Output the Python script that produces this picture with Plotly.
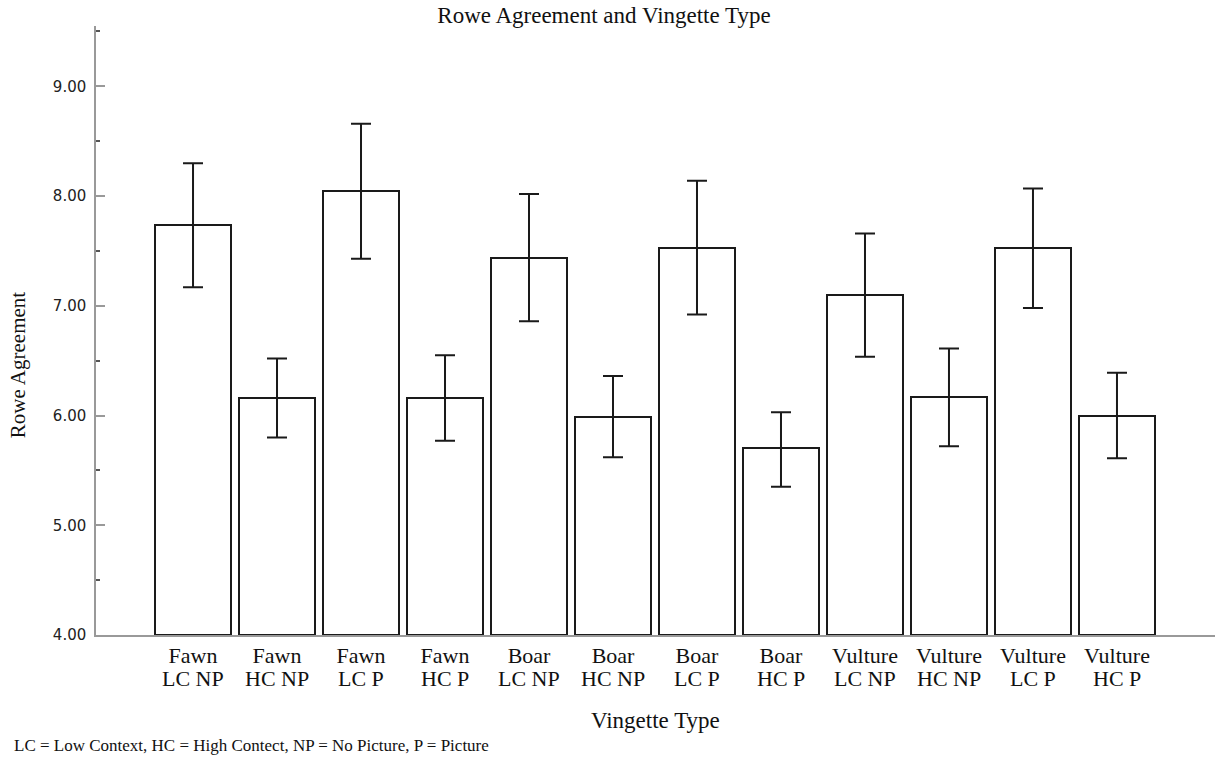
import plotly.graph_objects as go

animals = ["Fawn", "Fawn", "Fawn", "Fawn", "Boar", "Boar", "Boar", "Boar",
           "Vulture", "Vulture", "Vulture", "Vulture"]
conditions = ["LC NP", "HC NP", "LC P", "HC P", "LC NP", "HC NP", "LC P", "HC P",
              "LC NP", "HC NP", "LC P", "HC P"]
means = [7.74, 6.16, 8.05, 6.16, 7.44, 5.99, 7.53, 5.70, 7.10, 6.17, 7.53, 6.00]
ci_upper = [8.30, 6.52, 8.66, 6.55, 8.02, 6.36, 8.14, 6.03, 7.66, 6.61, 8.07, 6.39]
ci_lower = [7.17, 5.80, 7.43, 5.77, 6.86, 5.62, 6.92, 5.35, 6.535, 5.72, 6.98, 5.61]
y_ticks = [4, 5, 6, 7, 8, 9]
y_tick_labels = ["4.00", "5.00", "6.00", "7.00", "8.00", "9.00"]

xpos = list(range(len(animals)))
err_plus = [u - m for u, m in zip(ci_upper, means)]
err_minus = [m - l for m, l in zip(means, ci_lower)]

SERIF = "Liberation Serif"
SANS = "DejaVu Sans"
INK = "#111111"

fig = go.Figure()
fig.add_trace(go.Bar(
    x=xpos, y=[m - 4 for m in means], base=4,
    width=0.905,
    marker=dict(color="white", line=dict(color="#1a1a1a", width=2)),
    error_y=dict(type="data", symmetric=False, array=err_plus, arrayminus=err_minus,
                 color="#1a1a1a", thickness=2, width=10),
    showlegend=False, hoverinfo="skip",
))

fig.update_layout(
    width=1219, height=768,
    margin=dict(l=96, r=4, t=26, b=133),
    plot_bgcolor="white", paper_bgcolor="white",
    font=dict(family=SERIF, color=INK),
    title=dict(text="Rowe Agreement and Vingette Type", x=0.4955, xref="container",
               xanchor="center", y=0.981, yref="container", yanchor="middle",
               font=dict(family=SERIF, size=23, color=INK)),
    bargap=0,
)

fig.update_xaxes(
    range=[-1.155, 12.167],
    tickmode="array", tickvals=xpos, ticktext=animals,
    tickfont=dict(family=SERIF, size=22, color=INK),
    showline=True, linecolor="#999999", linewidth=1.5,
    ticks="", showgrid=False, zeroline=False,
)
fig.update_yaxes(
    range=[4, 9.55],
    tickmode="array", tickvals=y_ticks, ticktext=y_tick_labels,
    tickfont=dict(family=SANS, size=15, color="#222222"),
    ticklabelstandoff=5,
    showline=True, linecolor="#999999", linewidth=1.5,
    ticks="inside", ticklen=9, tickcolor="#999999", tickwidth=1.5,
    minor=dict(tickmode="linear", tick0=4.5, dtick=1, ticks="inside", ticklen=4,
               tickcolor="#555555", tickwidth=1.5),
    showgrid=False, zeroline=False,
)

# second line of each category label
for xi, cond in zip(xpos, conditions):
    fig.add_annotation(text=cond, xref="x", yref="paper", x=xi, y=-0.0722,
                       showarrow=False, xanchor="center", yanchor="middle",
                       font=dict(family=SERIF, size=22, color=INK))

fig.add_annotation(text="Rowe Agreement", xref="paper", yref="paper",
                   x=-0.0697, y=0.443, textangle=-90, showarrow=False,
                   xanchor="center", yanchor="middle",
                   font=dict(family=SERIF, size=21, color=INK))
fig.add_annotation(text="Vingette Type", xref="paper", yref="paper",
                   x=0.5, y=-0.141, showarrow=False,
                   xanchor="center", yanchor="middle",
                   font=dict(family=SERIF, size=23, color=INK))
fig.add_annotation(text="LC = Low Context, HC = High Contect, NP = No Picture, P = Picture",
                   xref="paper", yref="paper", x=-0.0751, y=-0.181, showarrow=False,
                   xanchor="left", yanchor="middle",
                   font=dict(family=SERIF, size=17, color=INK))

fig.write_html("out.html",
               config={"displayModeBar": False},
               post_script="document.body.style.margin='0';")
